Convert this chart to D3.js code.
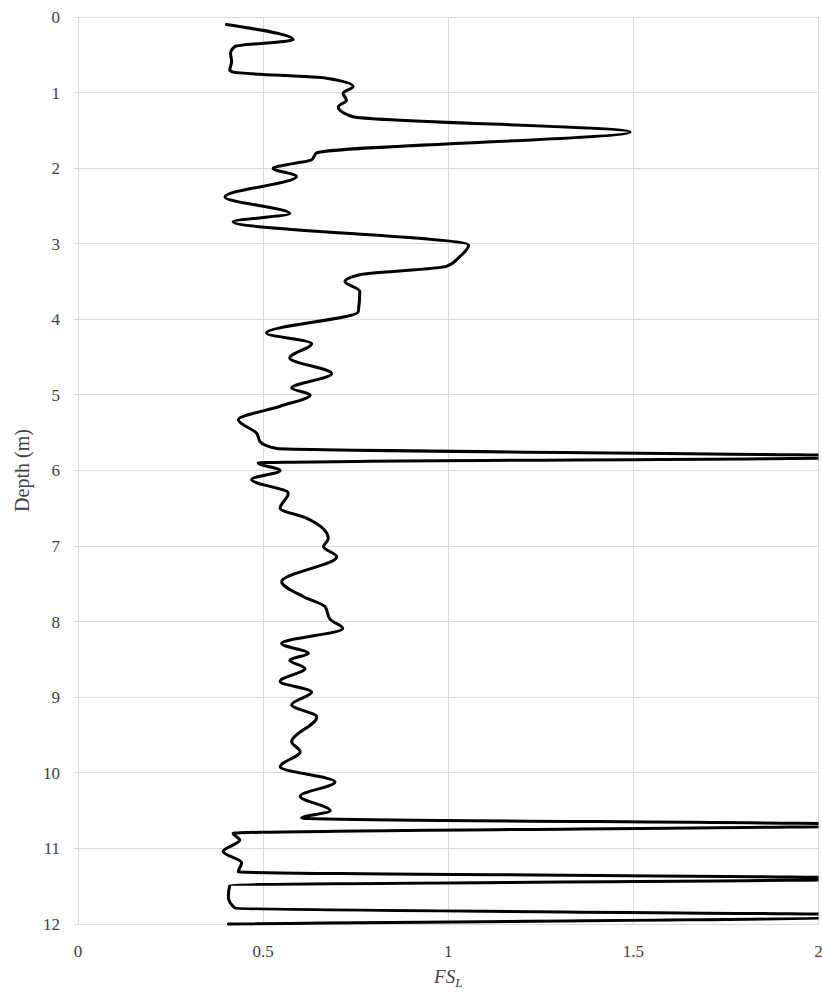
<!DOCTYPE html>
<html>
<head>
<meta charset="utf-8">
<script src="https://cdn.jsdelivr.net/npm/d3@7"></script>
<style>
  html, body { margin: 0; padding: 0; background: #fff; }
  svg { display: block; }
</style>
</head>
<body>
<svg id="chart" width="822" height="992"></svg>
<script>
// ---- data ----
const depth = [0.10,0.30,0.39,0.48,0.59,0.70,0.73,0.81,0.92,1.01,1.10,1.19,1.32,1.52,1.80,1.89,1.94,2.00,2.11,2.38,2.60,2.71,3.02,3.17,3.30,3.41,3.50,3.63,3.90,4.18,4.32,4.51,4.72,4.91,5.00,5.15,5.33,5.51,5.62,5.71,5.82,5.90,6.00,6.12,6.30,6.50,6.63,6.90,7.01,7.14,7.47,7.67,7.80,7.97,8.09,8.29,8.42,8.51,8.62,8.79,8.93,9.10,9.26,9.59,9.72,9.92,10.12,10.31,10.50,10.60,10.69,10.80,10.89,11.04,11.19,11.31,11.40,11.49,11.64,11.79,11.89,12.00];
const fsl   = [0.401,0.581,0.424,0.412,0.415,0.410,0.420,0.671,0.743,0.716,0.725,0.703,0.743,1.491,0.644,0.631,0.581,0.527,0.590,0.397,0.572,0.419,1.055,1.031,0.995,0.761,0.721,0.761,0.757,0.509,0.631,0.572,0.685,0.577,0.627,0.546,0.433,0.483,0.492,0.537,2.2,0.487,0.546,0.469,0.568,0.546,0.617,0.676,0.663,0.699,0.550,0.609,0.667,0.681,0.715,0.550,0.622,0.572,0.613,0.546,0.631,0.577,0.645,0.577,0.600,0.546,0.694,0.600,0.681,0.604,2.2,0.419,0.437,0.392,0.442,0.433,2.2,0.410,0.406,0.424,2.2,0.406];
const xTicks = [0, 0.5, 1, 1.5, 2];
const yTicks = [0,1,2,3,4,5,6,7,8,9,10,11,12];
const xTitle = "FS";
const xTitleSub = "L";
const yTitle = "Depth (m)";

// ---- layout ----
const pLeft = 78, pRight = 818.5, pTop = 17, pBottom = 924;
const x = d3.scaleLinear().domain([0, 2]).range([pLeft, pRight]);
const y = d3.scaleLinear().domain([0, 12]).range([pTop, pBottom]);
const svg = d3.select("#chart");
const font = "Liberation Serif";

// gridlines
svg.append("g").selectAll("line").data(xTicks).join("line")
  .attr("x1", d => x(d)).attr("x2", d => x(d))
  .attr("y1", pTop).attr("y2", pBottom)
  .attr("stroke", "#d9d9d9").attr("stroke-width", 1).attr("shape-rendering", "crispEdges");
svg.append("g").selectAll("line").data(yTicks).join("line")
  .attr("x1", pLeft - 4).attr("x2", pRight)
  .attr("y1", d => y(d)).attr("y2", d => y(d))
  .attr("stroke", "#d9d9d9").attr("stroke-width", 1).attr("shape-rendering", "crispEdges");

// tick labels
svg.append("g").selectAll("text").data(yTicks).join("text")
  .attr("x", pLeft - 18).attr("y", d => y(d)).attr("dy", "0.35em")
  .attr("text-anchor", "end")
  .attr("font-family", font).attr("font-size", 17).attr("fill", "#404040")
  .text(d => d);
svg.append("g").selectAll("text").data(xTicks).join("text")
  .attr("x", d => x(d)).attr("y", 957)
  .attr("text-anchor", "middle")
  .attr("font-family", font).attr("font-size", 17).attr("fill", "#404040")
  .text(d => d);

// axis titles
const xt = svg.append("text")
  .attr("x", x(1)).attr("y", 983)
  .attr("text-anchor", "middle")
  .attr("font-family", font).attr("font-size", 19).attr("fill", "#404040");
xt.append("tspan").attr("font-style", "italic").text(xTitle);
xt.append("tspan").attr("font-style", "italic").attr("font-size", 13).attr("dy", 4).text(xTitleSub);

svg.append("text")
  .attr("transform", `translate(29, ${(pTop + pBottom) / 2}) rotate(-90)`)
  .attr("text-anchor", "middle")
  .attr("font-family", font).attr("font-size", 20).attr("fill", "#404040")
  .text(yTitle);

// clip
svg.append("clipPath").attr("id", "clip")
  .append("rect").attr("x", pLeft).attr("y", pTop - 5)
  .attr("width", pRight - pLeft).attr("height", pBottom - pTop + 10);

const pts = depth.map((d, i) => [fsl[i], d]);
const line = d3.line()
  .x(p => x(p[0])).y(p => y(p[1]))
  .curve(d3.curveMonotoneY);

svg.append("path")
  .attr("clip-path", "url(#clip)")
  .attr("d", line(pts))
  .attr("fill", "none")
  .attr("stroke", "#000")
  .attr("stroke-width", 3)
  .attr("stroke-linejoin", "round")
  .attr("stroke-linecap", "round");
</script>
</body>
</html>
